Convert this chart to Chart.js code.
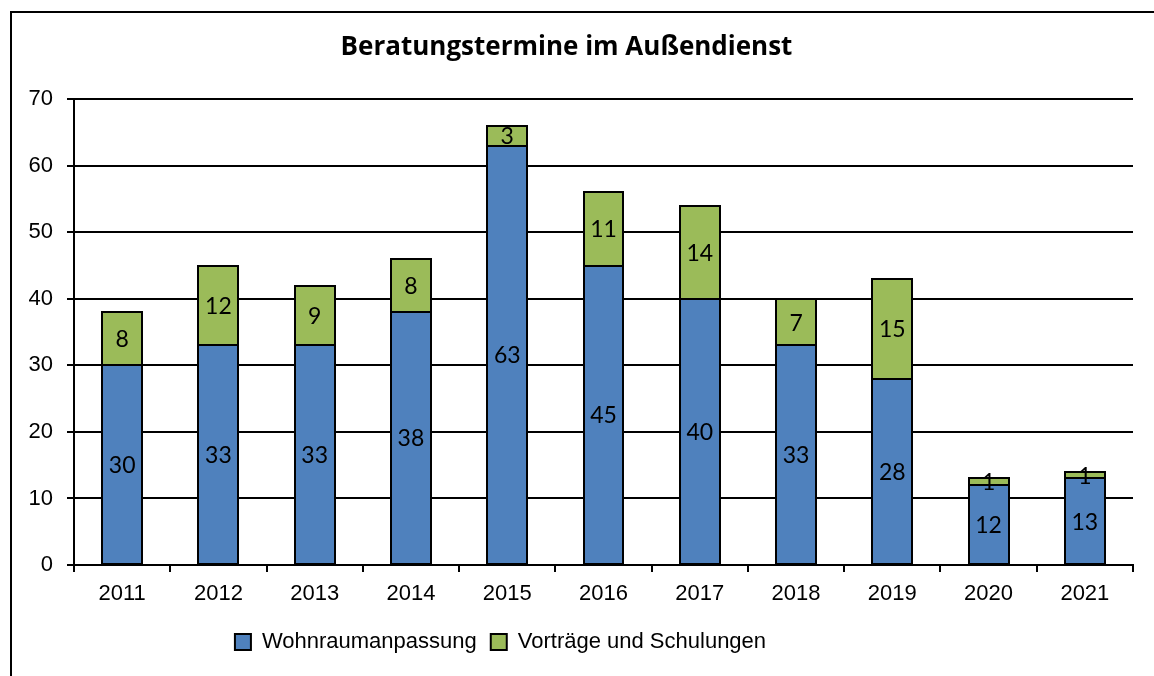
<!DOCTYPE html>
<html lang="de">
<head>
    <meta charset="UTF-8">
    <title>Beratungstermine im Außendienst</title>
    <script src="https://cdn.jsdelivr.net/npm/chart.js"></script>
    <style>
        body { margin: 0; background: #fff; }
        canvas { display: block; }
    </style>
</head>
<body>
    <canvas id="chart" width="1154" height="676"></canvas>

    <script>
        // Daten aus der Grafik
        const jahre = ['2011', '2012', '2013', '2014', '2015', '2016', '2017', '2018', '2019', '2020', '2021'];
        const wohnraumanpassung = [30, 33, 33, 38, 63, 45, 40, 33, 28, 12, 13];
        const vortraege = [8, 12, 9, 8, 3, 11, 14, 7, 15, 1, 1];
        const yTicks = [0, 10, 20, 30, 40, 50, 60, 70];

        // Rahmen um das Diagramm (nur links und oben sichtbar)
        const rahmen = {
            id: 'rahmen',
            beforeDraw(chart) {
                const ctx = chart.ctx;
                ctx.save();
                ctx.fillStyle = '#fff';
                ctx.fillRect(0, 0, chart.width, chart.height);
                ctx.strokeStyle = '#000';
                ctx.lineWidth = 2;
                ctx.strokeRect(11, 12, 1300, 1000);
                ctx.restore();
            }
        };

        // schwarze Umrandung der Balken + Werte mittig in die Balken schreiben
        const werteLabels = {
            id: 'werteLabels',
            afterDatasetsDraw(chart) {
                const ctx = chart.ctx;
                ctx.save();
                ctx.strokeStyle = '#000';
                ctx.lineWidth = 2;
                chart.data.datasets.forEach((ds, i) => {
                    chart.getDatasetMeta(i).data.forEach(bar => {
                        const p = bar.getProps(['x', 'y', 'base', 'width'], true);
                        const l = Math.round(p.x - p.width / 2);
                        const r = Math.round(p.x + p.width / 2);
                        const t = Math.round(p.y);
                        const b = Math.round(p.base);
                        ctx.strokeRect(l, t, r - l, b - t);
                    });
                });
                ctx.font = '23px Lato';
                ctx.fillStyle = '#000';
                ctx.textAlign = 'center';
                ctx.textBaseline = 'middle';
                chart.data.datasets.forEach((ds, i) => {
                    chart.getDatasetMeta(i).data.forEach((bar, j) => {
                        const p = bar.getProps(['x', 'y', 'base'], true);
                        ctx.fillText(ds.data[j], p.x, (p.y + p.base) / 2 + 1);
                    });
                });
                ctx.restore();
            }
        };

        // Legende etwas nach links verschieben wie im Original
        const legendeVerschieben = {
            id: 'legendeVerschieben',
            afterLayout(chart) {
                const l = chart.legend;
                l.left = 0;
                l.right = 1001;
                l.width = 1001;
            }
        };

        new Chart(document.getElementById('chart'), {
            type: 'bar',
            data: {
                labels: jahre,
                datasets: [{
                    label: 'Wohnraumanpassung',
                    data: wohnraumanpassung,
                    backgroundColor: '#4F81BD',
                    borderWidth: 0
                }, {
                    label: 'Vorträge und Schulungen',
                    data: vortraege,
                    backgroundColor: '#9BBB59',
                    borderWidth: 0
                }]
            },
            options: {
                responsive: false,
                animation: false,
                barPercentage: 0.415,
                categoryPercentage: 1,
                layout: { padding: { left: 0, right: 21, top: 0, bottom: 13 } },
                plugins: {
                    title: {
                        display: true,
                        text: 'Beratungstermine im Außendienst',
                        color: '#000',
                        font: { family: 'Open Sans', size: 26, weight: 'bold' },
                        padding: { top: 32, bottom: 36 }
                    },
                    legend: {
                        position: 'bottom',
                        labels: {
                            color: '#000',
                            font: { family: 'Liberation Sans', size: 22 },
                            boxWidth: 16,
                            boxHeight: 16,
                            padding: 14,
                            generateLabels(chart) {
                                const items = Chart.defaults.plugins.legend.labels.generateLabels(chart);
                                items.forEach(it => { it.lineWidth = 2; it.strokeStyle = '#000'; });
                                return items;
                            }
                        }
                    },
                    tooltip: { enabled: false }
                },
                scales: {
                    x: {
                        stacked: true,
                        grid: {
                            offset: true,
                            drawOnChartArea: false,
                            color: '#000',
                            lineWidth: 2,
                            tickLength: 7
                        },
                        border: { display: true, color: '#000', width: 2 },
                        ticks: {
                            color: '#000',
                            font: { family: 'Liberation Sans', size: 22 },
                            padding: 9,
                            maxRotation: 0
                        },
                        afterFit(scale) { scale.height = 52; }
                    },
                    y: {
                        stacked: true,
                        min: 0,
                        max: 70,
                        afterBuildTicks(scale) {
                            scale.ticks = yTicks.map(v => ({ value: v }));
                        },
                        grid: {
                            color: '#000',
                            lineWidth: 2,
                            tickLength: 7
                        },
                        border: { display: true, color: '#000', width: 2 },
                        ticks: {
                            color: '#000',
                            font: { family: 'Liberation Sans', size: 22 },
                            padding: 14
                        },
                        afterFit(scale) { scale.width = 74; }
                    }
                }
            },
            plugins: [rahmen, werteLabels, legendeVerschieben]
        });
    </script>
</body>
</html>
